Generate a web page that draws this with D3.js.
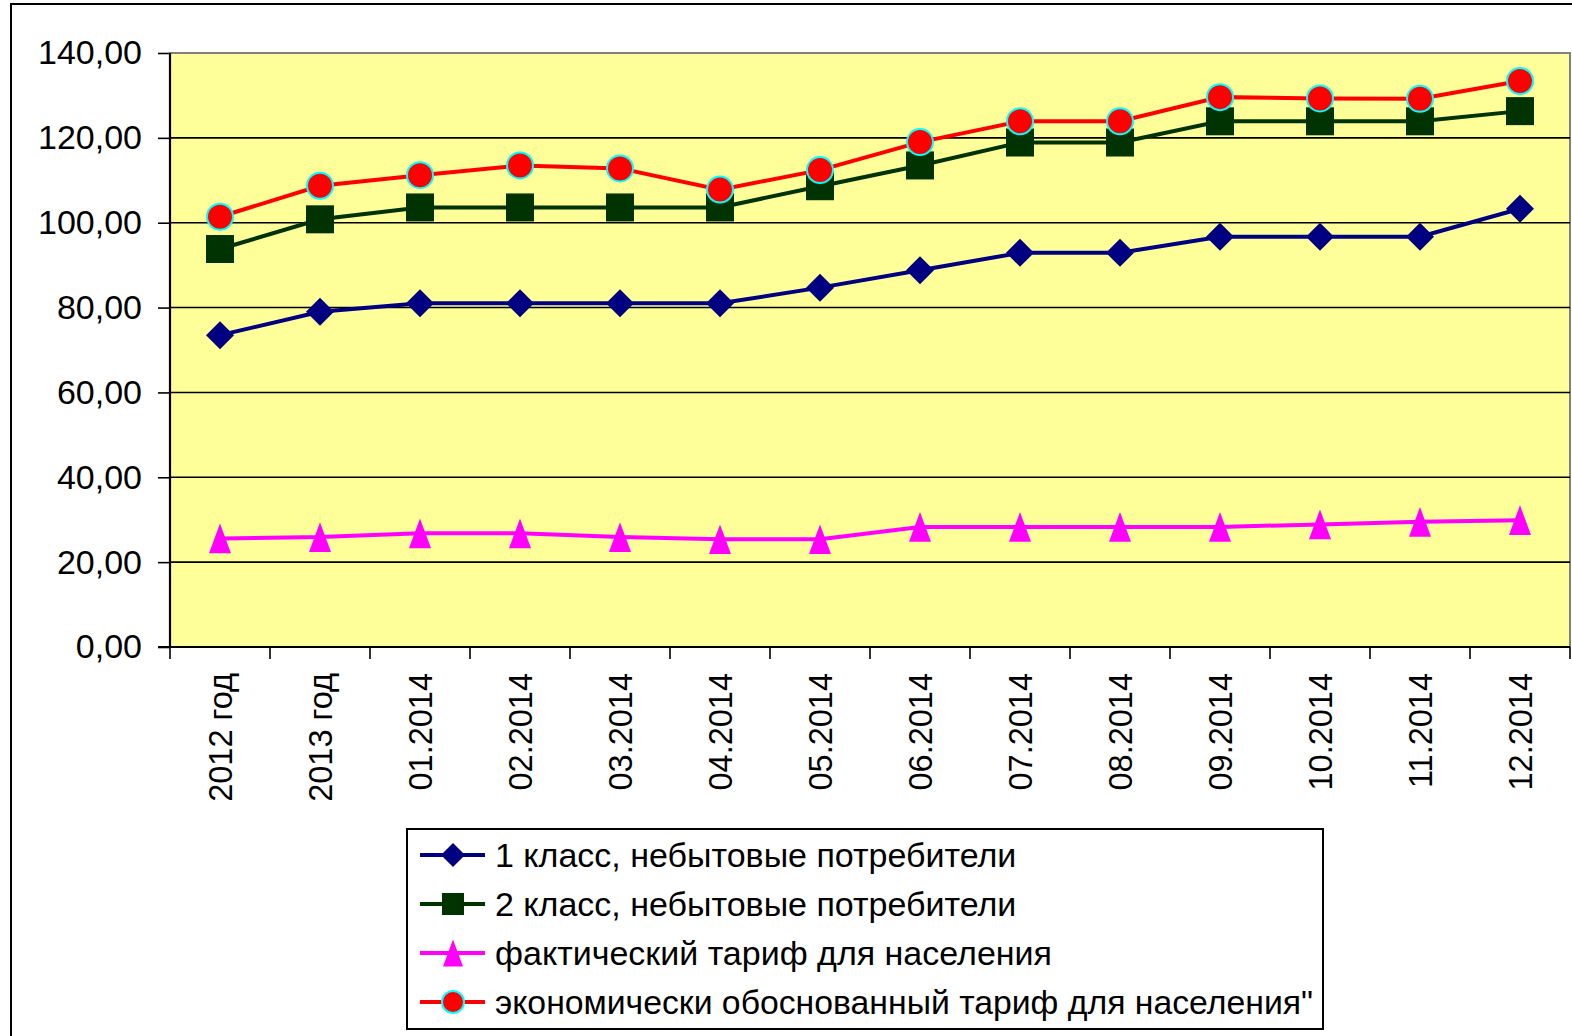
<!DOCTYPE html>
<html>
<head>
<meta charset="utf-8">
<script src="https://cdn.jsdelivr.net/npm/d3@7"></script>
<style>
    body { margin: 0; background: #fff; }
    svg { display: block; font-family: "Liberation Sans", Arial, sans-serif; }
</style>
</head>
<body>
<div id="chart"></div>
<script>
// categories on the x axis
var categories = ["2012 год", "2013 год", "01.2014", "02.2014", "03.2014", "04.2014", "05.2014",
    "06.2014", "07.2014", "08.2014", "09.2014", "10.2014", "11.2014", "12.2014"];

// series values
var class1 = [73.5, 79.0, 81.0, 81.0, 81.0, 81.0, 84.7, 88.8, 92.9, 92.9, 96.7, 96.7, 96.7, 103.3];
var class2 = [93.8, 100.8, 103.6, 103.6, 103.6, 103.6, 108.6, 113.5, 118.9, 118.9, 123.9, 123.9, 123.9, 126.3];
var actualTariff = [25.6, 25.9, 26.8, 26.8, 25.9, 25.4, 25.4, 28.3, 28.3, 28.3, 28.3, 28.9, 29.5, 29.9];
var economicTariff = [101.4, 108.7, 111.2, 113.5, 112.8, 107.8, 112.4, 119.0, 123.9, 123.9, 129.6, 129.3, 129.2, 133.4];

var yTicks = [0, 20, 40, 60, 80, 100, 120, 140];

var seriesNames = ["1 класс, небытовые потребители", "2 класс, небытовые потребители",
    "фактический тариф для населения", "экономически обоснованный тариф для населения\""];

var series = [
    { name: seriesNames[0], values: class1, color: "#000080", marker: "diamond" },
    { name: seriesNames[1], values: class2, color: "#003300", marker: "square" },
    { name: seriesNames[2], values: actualTariff, color: "#FF00FF", marker: "triangle" },
    { name: seriesNames[3], values: economicTariff, color: "#FF0000", marker: "circle" }
];

var W = 1572, H = 1036;
var plot = { left: 170, right: 1570, top: 53, bottom: 647 };

var svg = d3.select("#chart")
    .append("svg")
    .attr("width", W)
    .attr("height", H);

// outer frame (runs off the right and bottom edges)
svg.append("rect")
    .attr("x", 11).attr("y", 4)
    .attr("width", W).attr("height", H)
    .attr("fill", "#fff")
    .attr("stroke", "#000").attr("stroke-width", 2);

var x = d3.scaleBand()
    .domain(categories)
    .range([plot.left, plot.right])
    .padding(0);

var y = d3.scaleLinear()
    .domain([0, 140])
    .range([plot.bottom, plot.top]);

// plot background
svg.append("rect")
    .attr("x", plot.left).attr("y", plot.top)
    .attr("width", plot.right - plot.left).attr("height", plot.bottom - plot.top)
    .attr("fill", "#FFFF99")
    .attr("stroke", "#808080").attr("stroke-width", 2);

// gridlines
svg.append("g")
    .selectAll("line")
    .data(yTicks.filter(function (d) { return d > 0 && d < 140; }))
    .enter()
    .append("line")
    .attr("x1", plot.left).attr("x2", plot.right)
    .attr("y1", function (d) { return y(d); })
    .attr("y2", function (d) { return y(d); })
    .attr("stroke", "#000").attr("stroke-width", 1.6);

// y axis
var fmt = d3.format(".2f");
var yAxis = svg.append("g")
    .attr("transform", "translate(" + plot.left + ",0)")
    .call(d3.axisLeft(y)
        .tickValues(yTicks)
        .tickSize(12)
        .tickPadding(16)
        .tickFormat(function (d) { return fmt(d).replace(".", ","); }));
yAxis.select(".domain").remove();
yAxis.selectAll(".tick line").attr("stroke", "#000").attr("stroke-width", 1.6);
yAxis.selectAll(".tick text")
    .attr("fill", "#000")
    .style("font-size", "34px")
    .style("font-family", "Liberation Sans, Arial, sans-serif");
svg.append("line")
    .attr("x1", plot.left).attr("x2", plot.left)
    .attr("y1", plot.top).attr("y2", plot.bottom + 1)
    .attr("stroke", "#000").attr("stroke-width", 2.2);

// x axis
var xAxis = svg.append("g")
    .attr("transform", "translate(0," + plot.bottom + ")")
    .call(d3.axisBottom(x).tickSize(0));
xAxis.select(".domain").remove();
xAxis.selectAll(".tick text")
    .attr("transform", "rotate(-90)")
    .attr("x", -26)
    .attr("y", 0)
    .attr("dy", "0.36em")
    .attr("text-anchor", "end")
    .attr("fill", "#000")
    .style("font-size", "32.5px")
    .style("font-family", "Liberation Sans, Arial, sans-serif");
var boundaries = categories.map(function (c) { return x(c); }).concat([x.range()[1]]);
xAxis.selectAll(".bound")
    .data(boundaries)
    .enter()
    .append("line")
    .attr("class", "bound")
    .attr("x1", function (d) { return d; }).attr("x2", function (d) { return d; })
    .attr("y1", 0).attr("y2", 12)
    .attr("stroke", "#000").attr("stroke-width", 1.6);
svg.append("line")
    .attr("x1", plot.left - 12).attr("x2", plot.right)
    .attr("y1", plot.bottom).attr("y2", plot.bottom)
    .attr("stroke", "#000").attr("stroke-width", 2.2);

function cx(i) { return x(categories[i]) + x.bandwidth() / 2; }

function drawMarker(g, type, color, px, py, s) {
    if (type === "diamond") {
        g.append("path")
            .attr("d", "M" + px + "," + (py - s) + "L" + (px + s) + "," + py + "L" + px + "," + (py + s) + "L" + (px - s) + "," + py + "Z")
            .attr("fill", color);
    } else if (type === "square") {
        g.append("rect")
            .attr("x", px - s).attr("y", py - s)
            .attr("width", 2 * s).attr("height", 2 * s)
            .attr("fill", color);
    } else if (type === "triangle") {
        var h = s * 1.35;
        g.append("path")
            .attr("d", "M" + px + "," + (py - h) + "L" + (px + s) + "," + (py + h) + "L" + (px - s) + "," + (py + h) + "Z")
            .attr("fill", color);
    } else {
        g.append("circle")
            .attr("cx", px).attr("cy", py).attr("r", s)
            .attr("fill", color)
            .attr("stroke", "#00FFFF").attr("stroke-width", 2);
    }
}

var line = d3.line()
    .x(function (d, i) { return cx(i); })
    .y(function (d) { return y(d); });

var markerSize = { diamond: 14, square: 14, triangle: 11, circle: 13 };

series.forEach(function (s) {
    var g = svg.append("g");
    g.append("path")
        .datum(s.values)
        .attr("d", line)
        .attr("fill", "none")
        .attr("stroke", s.color)
        .attr("stroke-width", 4);
    s.values.forEach(function (v, i) {
        drawMarker(g, s.marker, s.color, cx(i), y(v), markerSize[s.marker]);
    });
});

// legend
var legendBox = { x: 407, y: 829, w: 916, h: 200 };
var legend = svg.append("g");
legend.append("rect")
    .attr("x", legendBox.x).attr("y", legendBox.y)
    .attr("width", legendBox.w).attr("height", legendBox.h)
    .attr("fill", "#fff")
    .attr("stroke", "#000").attr("stroke-width", 2);

var legendSize = { diamond: 12, square: 11, triangle: 10, circle: 11 };
var maxTextW = legendBox.x + legendBox.w - 10 - 495;
series.forEach(function (s, i) {
    var ly = 855 + i * 49;
    var row = legend.append("g");
    row.append("line")
        .attr("x1", 420).attr("x2", 485)
        .attr("y1", ly).attr("y2", ly)
        .attr("stroke", s.color).attr("stroke-width", 4);
    drawMarker(row, s.marker, s.color, 453, ly, legendSize[s.marker]);
    var t = row.append("text")
        .attr("x", 495)
        .attr("y", ly)
        .attr("dy", "0.36em")
        .attr("fill", "#000")
        .style("font-size", "34px")
        .text(s.name);
    // keep long labels inside the box
    if (t.node().getComputedTextLength() > maxTextW) {
        t.attr("textLength", maxTextW).attr("lengthAdjust", "spacingAndGlyphs");
    }
});
</script>
</body>
</html>
